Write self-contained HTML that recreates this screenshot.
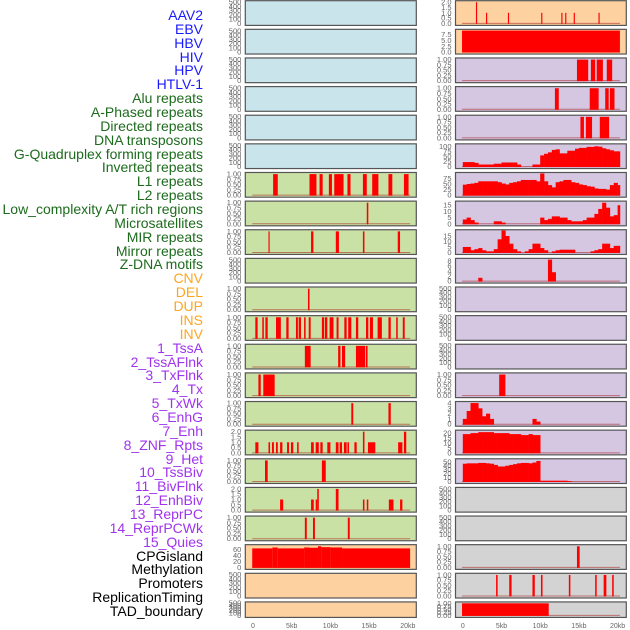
<!DOCTYPE html>
<html><head><meta charset="utf-8"><style>
html,body{margin:0;padding:0;background:#fff;width:630px;height:630px;overflow:hidden}
#lbl{position:absolute;left:0;top:0;width:203px}
.l{position:absolute;right:0;font:14px "Liberation Sans",sans-serif;white-space:nowrap;line-height:14px}
svg{position:absolute;left:0;top:0}
</style></head><body>
<div id="lbl"></div>
<svg id="c" width="630" height="630"></svg>
<script>
const labels=["AAV2","EBV","HBV","HIV","HPV","HTLV-1","Alu repeats","A-Phased repeats","Directed repeats","DNA transposons","G-Quadruplex forming repeats","Inverted repeats","L1 repeats","L2 repeats","Low_complexity A/T rich regions","Microsatellites","MIR repeats","Mirror repeats","Z-DNA motifs","CNV","DEL","DUP","INS","INV","1_TssA","2_TssAFlnk","3_TxFlnk","4_Tx","5_TxWk","6_EnhG","7_Enh","8_ZNF_Rpts","9_Het","10_TssBiv","11_BivFlnk","12_EnhBiv","13_ReprPC","14_ReprPCWk","15_Quies","CPGisland","Methylation","Promoters","ReplicationTiming","TAD_boundary"];
const labelGroups=[6,13,5,15,5];
const groupColors=["#1a1aff","#1d6b1d","#ffa520","#a033ee","#000"];
const xTicks=[0,5,10,15,20];
const xTickLabels=["0","5kb","10kb","15kb","20kb"];
const leftData=[[],[],[],[],[],[],
[[2.6,3.2,1],[7.3,8.2,1],[8.6,9.0,1],[9.8,10.2,1],[10.5,11.7,1],[12.2,12.6,1],[14.2,14.7,1],[15.4,16.2,1],[17.5,18.0,1],[19.5,20.1,1]],
[[14.7,14.9,1]],
[[2.0,2.15,1],[7.5,7.8,1],[10.7,11.1,1],[14.2,14.4,1],[18.7,19.0,1]],
[],
[[7.1,7.3,1]],
[[0.3,0.6,1],[1.2,1.4,1],[1.6,1.9,1],[2.97,3.6,1],[4.3,4.6,1],[5.55,5.8,1],[5.9,6.2,1],[6.6,6.8,1],[7.2,7.45,1],[8.9,9.2,1],[9.3,9.6,1],[9.9,10.4,1],[10.8,11.05,1],[11.8,12.1,1],[12.3,12.7,1],[13.3,13.6,1],[14.6,14.9,1],[15.1,15.5,1],[16.1,16.65,1],[17.5,17.8,1],[18.5,18.7,1],[19.35,19.6,1]],
[[6.7,7.45,1],[11.0,11.3,1],[11.5,11.9,1],[13.3,14.5,1],[14.6,14.8,1]],
[[0.7,1.0,1],[1.33,2.8,1]],
[[12.7,12.95,1],[17.5,17.8,1]],
[[0.3,0.7,1],[2.0,2.2,1],[2.45,2.7,1],[2.97,3.2,1],[3.5,3.8,1],[4.4,4.65,1],[4.9,5.2,1],[5.7,5.9,1],[7.5,7.85,1],[8.1,8.5,1],[8.7,9.0,1],[9.6,10.0,1],[10.7,11.05,1],[11.2,11.5,1],[11.75,12.1,1],[12.2,12.4,1],[13.1,13.4,1],[14.2,14.4,2],[14.85,15.8,1],[18.75,19.3,1],[19.5,19.8,2]],
[[1.55,1.9,1],[8.9,9.4,1]],
[[3.5,3.9,1],[7.5,7.85,1],[8.1,8.3,1],[8.3,8.5,2],[10.7,11.05,2],[14.2,14.4,1],[14.7,14.9,1],[17.55,18.15,1],[19.0,19.3,1]],
[[6.7,6.95,1],[7.75,8.0,1],[12.25,12.5,1]],
[[-0.1,2.5,63],[2.5,3.2,66],[3.2,6.6,63],[6.6,7.3,66],[7.3,8.4,65],[8.4,8.8,70],[8.8,10.0,67],[10.0,11.5,66],[11.5,20.3,63]],
[],[]];
const leftMax=[510,510,510,510,510,510,1.03,1.03,1.03,510,1.03,1.03,1.03,1.03,1.03,2.05,1.03,2.05,1.03,72,510,510];
const gquadBins=[22,22,22,18,10,10,10,10,14,14,20,20,20,20,10,0,0,0,10,10,55,63,70,82,85,65,65,78,78,88,92,92,97,97,100,98,90,85,80,75,75];
const l1Bins=[47,50,52,55,62,62,62,62,62,58,52,48,55,58,62,68,68,68,68,62,97,62,45,35,58,62,68,68,58,55,48,45,40,38,30,28,28,25,45,55,45];
const lowCxBins=[3.5,5,3,1,0,0,0,0,2,2,1,0,0,0,0,0,0,0,0,0,5,3,4,6,6,5,5,3,2,2,2,3,5,5,8,12,17,13,6,7,15];
const mirBins=[5,5,2,3,4,2,1,1,3,12,20,15,8,3,1,0,1,3,8,8,4,2,0,1,2,2.5,2.5,2.5,2.5,0,0,0,0,1,2,3,8,8,4,6,6];
const zdnaBins=[0,0,0,0,1.3,0,0,0,0,0,0,0,0,0,0,0,0,0,0,0,0,0,8.5,3.5];
const txBins=[1,2.5,4,4,3,1.5,2,1,0,0,0,0,0,0,0,0,0,0,1,0.5];
const znfBins=[19,19,20,20,21,21,21,21,20,20,20,20,19,19,19,18,18,19,18,18];
const hetBins=[45,46,46,46,47,47,46,45,42,38,38,40,42,44,46,47,47,46,48,52,2,2,2,2,2,2,2,1];
const rightIntervals={
0:[[1.7,1.85,2],[3.0,3.15,1],[5.83,5.98,1],[10.13,10.28,1],[12.73,12.88,1],[13.23,13.38,1],[14.33,14.48,1],[17.53,17.68,1]],
1:[[-0.1,20.3,9.3]],
2:[[14.75,16.2,1],[16.55,17.1,1],[17.3,18.1,1],[18.6,19.3,1]],
3:[[11.9,12.4,1],[16.4,17.55,1],[18.4,18.85,1],[19.0,19.6,1]],
4:[[15.2,15.65,1],[15.9,16.7,1],[17.7,18.9,1]],
13:[[4.7,5.5,1]],
19:[[14.75,15.1,1]],
20:[[4.3,4.5,1],[6.0,6.3,1],[9.0,9.3,1],[10.1,10.3,1],[13.7,13.9,1],[17.1,17.3,1],[18.2,18.55,1],[19.3,19.5,1]],
21:[[-0.1,11.1,1]]};
const rightBins={5:gquadBins,6:l1Bins,7:lowCxBins,8:mirBins,9:zdnaBins,14:txBins,15:znfBins,16:hetBins};
const rightMax=[2.05,9.4,1.03,1.03,1.03,107,97,17.5,19.8,8.6,510,510,510,1.03,4.1,22,55,510,510,1.03,1.03,1.03];
const ticksBy={510:[0,100,200,300,400,500],1.03:[0,0.25,0.5,0.75,1],2.05:[0,0.5,1,1.5,2],9.4:[0,2.5,5,7.5],107:[0,25,50,75,100],97:[0,25,50,75],17.5:[0,5,10,15],19.8:[0,5,10,15],8.6:[0,2,4,6,8],4.1:[0,1,2,3,4],22:[0,5,10,15,20],55:[0,10,20,30,40,50],72:[0,20,40,60]};
const leftColors=["#c9e4eb","#c9e4eb","#c9e4eb","#c9e4eb","#c9e4eb","#c9e4eb","#c9e1a5","#c9e1a5","#c9e1a5","#c9e1a5","#c9e1a5","#c9e1a5","#c9e1a5","#c9e1a5","#c9e1a5","#c9e1a5","#c9e1a5","#c9e1a5","#c9e1a5","#fdd1a0","#fdd1a0","#fdd1a0"];
const rightColors=["#fdd1a0","#fdd1a0","#d5c6e1","#d5c6e1","#d5c6e1","#d5c6e1","#d5c6e1","#d5c6e1","#d5c6e1","#d5c6e1","#d5c6e1","#d5c6e1","#d5c6e1","#d5c6e1","#d5c6e1","#d5c6e1","#d5c6e1","#d3d3d3","#d3d3d3","#d3d3d3","#d3d3d3","#d3d3d3"];

const NS="http://www.w3.org/2000/svg";
const svg=document.getElementById('c');
const lbl=document.getElementById('lbl');
let gi=0,gc=0;
labels.forEach((t,i)=>{
  const d=document.createElement('div');d.className='l';
  d.style.top=(8+i*13.86)+'px';d.style.color=groupColors[gi];d.textContent=t;
  
  
  lbl.appendChild(d);
  gc++;if(gc>=labelGroups[gi]){gi++;gc=0;}
});
function el(tag,a,p){const e=document.createElementNS(NS,tag);for(const k in a)e.setAttribute(k,a[k]);(p||svg).appendChild(e);return e;}
const cols=[{x0:245.3,x1:416.3,zero:253,name:'left'},{x0:455.5,x1:626.3,zero:462.8,name:'right'}];
const kpx=7.74;
function rowTop(i){return 0.7+i*28.63;}
function rowH(i){return i===21?15.5:24.7;}
function fmt(v,m){if(m===1.03)return v.toFixed(2);if(m===2.05||m===9.4)return v.toFixed(1);return String(v);}
for(let c=0;c<2;c++){
  const C=cols[c];const xs=kb=>C.zero+kb*kpx;
  for(let r=0;r<22;r++){
    const top=rowTop(r),h=rowH(r),bot=top+h;
    const m=c?rightMax[r]:leftMax[r];
    const ys=v=>bot-2-v/m*(h-3);
    const g=el('g',{});
    
    
    el('rect',{x:C.x0,y:top,width:C.x1-C.x0,height:h,fill:c?rightColors[r]:leftColors[r]},g);
    const empty = m===510;
    if(!empty) el('line',{x1:xs(-0.1),x2:xs(20.3),y1:ys(0),y2:ys(0),stroke:'rgba(170,30,30,0.55)','stroke-width':1},g);
    let ivs=c?(rightIntervals[r]||[]):leftData[r];
    ivs.forEach(iv=>{
      const b=el('rect',{x:xs(iv[0]),y:ys(iv[2]),width:Math.max(1,(iv[1]-iv[0])*kpx),height:ys(0)-ys(iv[2])+0.5,fill:'#ff0000'},g);
      
      
    });
    if(c&&rightBins[r]){
      const bins=rightBins[r];
      bins.forEach((v,k)=>{
        if(v<=0)return;
        const s=k*0.5,e=Math.min(20.3,s+0.5);
        const b=el('rect',{x:xs(s),y:ys(v),width:(e-s)*kpx+0.3,height:ys(0)-ys(v)+0.5,fill:'#ff0000'},g);
        
        
      });
    }
    el('rect',{x:C.x0,y:top,width:C.x1-C.x0,height:h,fill:'none',stroke:'#555','stroke-width':1.2},g);
    (ticksBy[m]||[]).forEach(tv=>{
      const t=el('text',{x:C.x0-4,y:ys(tv)+2.5,'text-anchor':'end','font-size':7.5,fill:'#666','font-family':'Liberation Sans, sans-serif'},g);
      t.textContent=fmt(tv,m);
      
      
    });
  }
  xTicks.forEach((v,k)=>{
    const t=el('text',{x:xs(v),y:628,'text-anchor':'middle','font-size':7,fill:'#666','font-family':'Liberation Sans, sans-serif'});
    t.textContent=xTickLabels[k];
    
    
  });
}
</script>
</body></html>
